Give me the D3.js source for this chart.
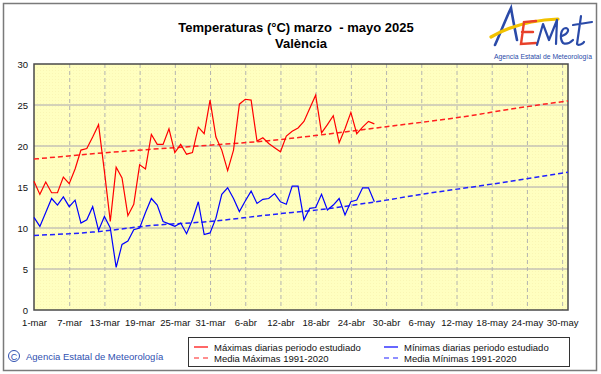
<!DOCTYPE html>
<html>
<head>
<meta charset="utf-8">
<script src="https://cdn.jsdelivr.net/npm/d3@7"></script>
<style>
  body { margin: 0; background: #fff; }
  svg { display: block; font-family: Arial, "Liberation Sans", sans-serif; }
</style>
</head>
<body>
<div id="chart"></div>
<script>
// daily values from 1-mar (index 0) to 28-abr
const maxVals = [15.7, 14.1, 15.6, 14.3, 14.3, 16.2, 15.4, 17.2, 19.5, 19.7,
  21.1, 22.6, 16.9, 10.8, 17.4, 16.1, 11.5, 12.9, 17.7, 17.2,
  21.4, 20.2, 20.2, 22.1, 19.2, 20.2, 19.0, 19.2, 22.3, 21.5,
  25.6, 21.1, 19.5, 17.0, 19.5, 25.1, 25.7, 25.6, 20.6, 21.0,
  20.3, 19.8, 19.3, 21.2, 21.8, 22.2, 23.0, 24.6, 26.2, 21.6,
  22.6, 23.7, 20.4, 22.1, 24.1, 21.5, 22.3, 23.0, 22.7]
const minVals = [11.3, 10.2, 11.9, 13.6, 12.8, 13.8, 12.6, 13.4, 10.6, 11.0,
  12.6, 9.7, 11.4, 10.0, 5.2, 8.0, 8.4, 9.8, 10.0, 11.9,
  13.6, 12.8, 10.8, 10.5, 10.2, 10.6, 9.3, 11.0, 13.2, 9.2,
  9.4, 11.2, 14.1, 14.9, 13.6, 12.0, 13.3, 14.5, 13.0, 13.5,
  13.6, 14.2, 13.2, 12.9, 15.1, 15.1, 11.0, 12.4, 12.5, 14.1,
  12.2, 12.8, 13.6, 11.6, 13.2, 13.4, 14.9, 14.9, 13.2]

// climatological means 1991-2020 (day index, value)
const meanMaxDays = [0, 10, 20, 30, 40, 50, 60, 72, 84, 91]
const meanMaxVals = [18.4, 19.05, 19.6, 20.1, 20.65, 21.45, 22.35, 23.45, 24.8, 25.5]
const meanMinDays = [0, 10, 20, 30, 40, 50, 60, 66, 78, 91]
const meanMinVals = [9.1, 9.5, 10.3, 10.8, 11.6, 12.35, 13.4, 14.1, 15.35, 16.8]

const tickLabels = ['1-mar', '7-mar', '13-mar', '19-mar', '25-mar', '31-mar', '6-abr', '12-abr',
  '18-abr', '24-abr', '30-abr', '6-may', '12-may', '18-may', '24-may', '30-may']
const yTicks = [0, 5, 10, 15, 20, 25, 30]

const start = new Date(Date.UTC(2025, 2, 1))
const end = new Date(Date.UTC(2025, 4, 31))
const dayDate = (i) => d3.utcDay.offset(start, i)

const W = 601
const H = 374
const svg = d3.select('#chart').append('svg').attr('width', W).attr('height', H)

const x = d3.scaleUtc().domain([start, end]).range([34, 568])
const y = d3.scaleLinear().domain([0, 30]).range([310, 64])

// outer frame
svg.append('rect')
  .attr('x', 3.5).attr('y', 3.5).attr('width', 593).attr('height', 367)
  .attr('fill', 'none').attr('stroke', '#7a7a7a').attr('stroke-width', 1.5)

// background of plot with light dither
const defs = svg.append('defs')
const pat = defs.append('pattern').attr('id', 'dots')
  .attr('width', 3).attr('height', 3).attr('patternUnits', 'userSpaceOnUse')
pat.append('rect').attr('width', 3).attr('height', 3).attr('fill', '#ffffc0')
pat.append('rect').attr('x', 1).attr('y', 1).attr('width', 1).attr('height', 1).attr('fill', '#faf6b4')

svg.append('rect')
  .attr('x', x.range()[0]).attr('y', y(30))
  .attr('width', x.range()[1] - x.range()[0]).attr('height', y(0) - y(30))
  .attr('fill', 'url(#dots)')

// grid
const tickDates = tickLabels.map((d, i) => dayDate(i * 6))
svg.append('g').selectAll('line')
  .data(yTicks.slice(1, -1))
  .join('line')
  .attr('x1', x.range()[0]).attr('x2', x.range()[1])
  .attr('y1', (d) => y(d)).attr('y2', (d) => y(d))
  .attr('stroke', '#a8a4b0').attr('stroke-width', 1)

svg.append('g').selectAll('line')
  .data(tickDates.slice(1))
  .join('line')
  .attr('x1', (d) => x(d) + 0.5).attr('x2', (d) => x(d) + 0.5)
  .attr('y1', y(30)).attr('y2', y(0))
  .attr('stroke', '#b4b4b0').attr('stroke-width', 1)
  .attr('stroke-dasharray', '4,3')

// plot frame
svg.append('rect')
  .attr('x', x.range()[0]).attr('y', y(30))
  .attr('width', x.range()[1] - x.range()[0]).attr('height', y(0) - y(30))
  .attr('fill', 'none').attr('stroke', '#4a4a4a').attr('stroke-width', 1.5)

// axes labels
const yAxis = d3.axisLeft(y).tickValues(yTicks).tickSize(0).tickPadding(6)
svg.append('g').attr('transform', `translate(${x.range()[0]},0)`).call(yAxis)
  .call((g) => g.select('.domain').remove())
  .selectAll('text').attr('font-size', 9.5).attr('fill', '#111').attr('font-family', 'Arial, "Liberation Sans", sans-serif')

const xAxis = d3.axisBottom(x).tickValues(tickDates).tickFormat((d, i) => tickLabels[i]).tickSize(0).tickPadding(9)
svg.append('g').attr('transform', `translate(0,${y(0)})`).call(xAxis)
  .call((g) => g.select('.domain').remove())
  .selectAll('text').attr('font-size', 9.5).attr('fill', '#111').attr('font-family', 'Arial, "Liberation Sans", sans-serif')

// lines
const line = d3.line().x((d, i) => x(dayDate(i))).y((d) => y(d))
const meanLine = (days) => d3.line()
  .x((d, i) => x(dayDate(days[i])))
  .y((d) => y(d))
  .curve(d3.curveMonotoneX)

svg.append('path').datum(meanMaxVals).attr('d', meanLine(meanMaxDays))
  .attr('fill', 'none').attr('stroke', '#ff2020').attr('stroke-width', 1.5).attr('stroke-dasharray', '5,3')
svg.append('path').datum(meanMinVals).attr('d', meanLine(meanMinDays))
  .attr('fill', 'none').attr('stroke', '#2020ff').attr('stroke-width', 1.5).attr('stroke-dasharray', '5,3')

svg.append('path').datum(maxVals).attr('d', line)
  .attr('fill', 'none').attr('stroke', '#ff0000').attr('stroke-width', 1.2)
svg.append('path').datum(minVals).attr('d', line)
  .attr('fill', 'none').attr('stroke', '#0000ff').attr('stroke-width', 1.2)

// title
svg.append('text').attr('x', 296).attr('y', 32).attr('text-anchor', 'middle')
  .attr('font-size', 13).attr('font-weight', 'bold').attr('fill', '#000')
  .attr('xml:space', 'preserve')
  .text('Temperaturas (°C) marzo  - mayo 2025')
svg.append('text').attr('x', 301).attr('y', 48).attr('text-anchor', 'middle')
  .attr('font-size', 13).attr('font-weight', 'bold').attr('fill', '#000')
  .text('València')

// AEMET logo (approximate)
const logo = svg.append('g')
logo.append('path').attr('d', 'M495,45 C501,32 506,18 511,8 C513,20 515,30 517,40')
  .attr('fill', 'none').attr('stroke', '#2a4aa8').attr('stroke-width', 2.6).attr('stroke-linecap', 'round')
logo.append('path').attr('d', 'M491,37 C510,26 532,20 558,19')
  .attr('fill', 'none').attr('stroke', '#f2c200').attr('stroke-width', 3.2).attr('stroke-linecap', 'round')
logo.append('path').attr('d', 'M536,21 L524,22 L521,44 L536,43 M522,32 L533,32')
  .attr('fill', 'none').attr('stroke', '#e8402a').attr('stroke-width', 2.4).attr('stroke-linecap', 'round')
logo.append('path').attr('d', 'M537,45 L543,24 L549,40 L557,20 L556,44 M562,36 C568,34 570,29 566,28 C561,28 559,38 563,43 C567,45 571,42 573,40 M581,16 L577,44 C578,46 583,44 584,42 M573,25 L592,22')
  .attr('fill', 'none').attr('stroke', '#2a4aa8').attr('stroke-width', 2.2).attr('stroke-linecap', 'round').attr('stroke-linejoin', 'round')
logo.append('text').attr('x', 494).attr('y', 59).attr('font-size', 6.5)
  .attr('textLength', 98).attr('lengthAdjust', 'spacingAndGlyphs')
  .attr('fill', '#2a4aa8').text('Agencia Estatal de Meteorología')

// copyright
svg.append('circle').attr('cx', 14).attr('cy', 356).attr('r', 5.5)
  .attr('fill', 'none').attr('stroke', '#3050b0').attr('stroke-width', 1)
svg.append('text').attr('x', 14).attr('y', 359.5).attr('text-anchor', 'middle')
  .attr('font-size', 9).attr('fill', '#3050b0').text('C')
svg.append('text').attr('x', 26).attr('y', 359.5).attr('font-size', 9.5)
  .attr('fill', '#3050b0').text('Agencia Estatal de Meteorología')

// legend
const legendItems = [
  { label: 'Máximas diarias periodo estudiado', color: '#ff0000', dash: null, col: 0, row: 0 },
  { label: 'Mínimas diarias periodo estudiado', color: '#0000ff', dash: null, col: 1, row: 0 },
  { label: 'Media Máximas 1991-2020', color: '#ff2020', dash: '5,4', col: 0, row: 1 },
  { label: 'Media Mínimas 1991-2020', color: '#2020ff', dash: '5,4', col: 1, row: 1 },
]
svg.append('rect').attr('x', 188.5).attr('y', 337.5).attr('width', 381).attr('height', 29)
  .attr('fill', '#fff').attr('stroke', '#333').attr('stroke-width', 1)
const lg = svg.append('g').selectAll('g').data(legendItems).join('g')
  .attr('transform', (d) => `translate(${194 + d.col * 190},${347 + d.row * 11})`)
lg.append('line').attr('x1', 0).attr('x2', 14).attr('y1', 0).attr('y2', 0)
  .attr('stroke', (d) => d.color).attr('stroke-width', 1.2)
  .attr('stroke-dasharray', (d) => d.dash)
lg.append('text').attr('x', 20).attr('y', 3.5).attr('font-size', 9.5).attr('fill', '#111')
  .text((d) => d.label)
</script>
</body>
</html>
